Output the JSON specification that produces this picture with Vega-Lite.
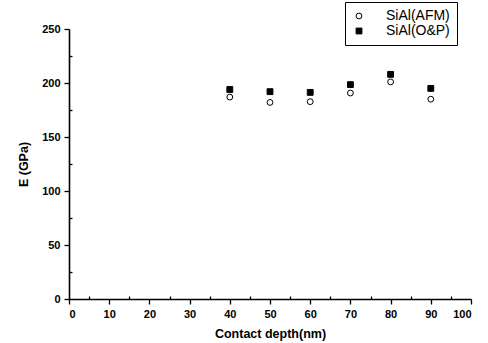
{
  "$schema": "https://vega.github.io/schema/vega-lite/v6.json",
  "autosize": "none",
  "width": 402,
  "height": 270,
  "padding": {"left": 69, "top": 29, "right": 17, "bottom": 44},
  "background": "white",
  "data": {
    "values": [
      {"depth": 40, "E": 187, "series": "SiAl(AFM)"},
      {"depth": 50, "E": 182, "series": "SiAl(AFM)"},
      {"depth": 60, "E": 182.7, "series": "SiAl(AFM)"},
      {"depth": 70, "E": 190.7, "series": "SiAl(AFM)"},
      {"depth": 80, "E": 201, "series": "SiAl(AFM)"},
      {"depth": 90, "E": 185, "series": "SiAl(AFM)"},
      {"depth": 40, "E": 194, "series": "SiAl(O&P)"},
      {"depth": 50, "E": 192, "series": "SiAl(O&P)"},
      {"depth": 60, "E": 191.3, "series": "SiAl(O&P)"},
      {"depth": 70, "E": 198.5, "series": "SiAl(O&P)"},
      {"depth": 80, "E": 208, "series": "SiAl(O&P)"},
      {"depth": 90, "E": 195, "series": "SiAl(O&P)"}
    ]
  },
  "layer": [
    {
      "mark": {"type": "point", "filled": true, "strokeWidth": 1, "opacity": 1, "size": 34},
      "encoding": {
        "x": {"field": "depth", "type": "quantitative", "scale": {"domain": [0, 100], "nice": false, "zero": false},
          "axis": {"orient": "bottom", "values": [0,10,20,30,40,50,60,70,80,90,100], "title": "Contact depth(nm)", "grid": false}},
        "y": {"field": "E", "type": "quantitative", "scale": {"domain": [0, 250], "nice": false, "zero": false},
          "axis": {"orient": "left", "values": [0,50,100,150,200,250], "title": "E (GPa)", "grid": false}},
        "stroke": {"field": "series", "type": "nominal", "scale": {"domain": ["SiAl(AFM)", "SiAl(O&P)"], "range": ["black", "black"]},
          "legend": {"title": null, "orient": "none", "legendX": 276, "legendY": -27, "labelExpr": "datum.label + '\u00a0\u00a0\u00a0\u00a0\u00a0\u00a0'"}},
        "shape": {"field": "series", "type": "nominal", "scale": {"domain": ["SiAl(AFM)", "SiAl(O&P)"], "range": ["circle", "square"]},
          "legend": {"title": null, "orient": "none", "legendX": 276, "legendY": -27, "labelExpr": "datum.label + '\u00a0\u00a0\u00a0\u00a0\u00a0\u00a0'"}},
        "fill": {"field": "series", "type": "nominal", "scale": {"domain": ["SiAl(AFM)", "SiAl(O&P)"], "range": ["white", "black"]},
          "legend": {"title": null, "orient": "none", "legendX": 276, "legendY": -27, "labelExpr": "datum.label + '\u00a0\u00a0\u00a0\u00a0\u00a0\u00a0'"}}
      }
    },
    {
      "mark": {"type": "point", "opacity": 0},
      "encoding": {
        "x": {"field": "depth", "type": "quantitative",
          "axis": {"orient": "bottom", "values": [5,15,25,35,45,55,65,75,85,95], "labels": false, "domain": false, "tickSize": -3, "title": null, "grid": false}},
        "y": {"field": "E", "type": "quantitative",
          "axis": {"orient": "left", "values": [25,75,125,175,225], "labels": false, "domain": false, "tickSize": -3, "title": null, "grid": false}}
      }
    }
  ],
  "resolve": {"axis": {"x": "independent", "y": "independent"}},
  "config": {
    "view": {"stroke": null},
    "axis": {
      "domainColor": "black", "domainWidth": 1.6, "tickColor": "black", "tickWidth": 1.3, "tickSize": 5,
      "labelFont": "Liberation Sans", "labelFontWeight": "bold", "labelFontSize": 11, "labelColor": "black", "labelPadding": 4,
      "titleFont": "Liberation Sans", "titleFontWeight": "bold", "titleFontSize": 12.5, "titleColor": "black"
    },
    "axisX": {"titlePadding": 8},
    "axisY": {"titlePadding": 11},
    "legend": {
      "labelFont": "Liberation Sans", "labelFontSize": 14, "labelColor": "black",
      "strokeColor": "black", "fillColor": "white", "padding": 7, "rowPadding": 1,
      "symbolStrokeWidth": 1, "symbolSize": 34,
      "labelOffset": 20,
      "cornerRadius": 0
    }
  }
}
